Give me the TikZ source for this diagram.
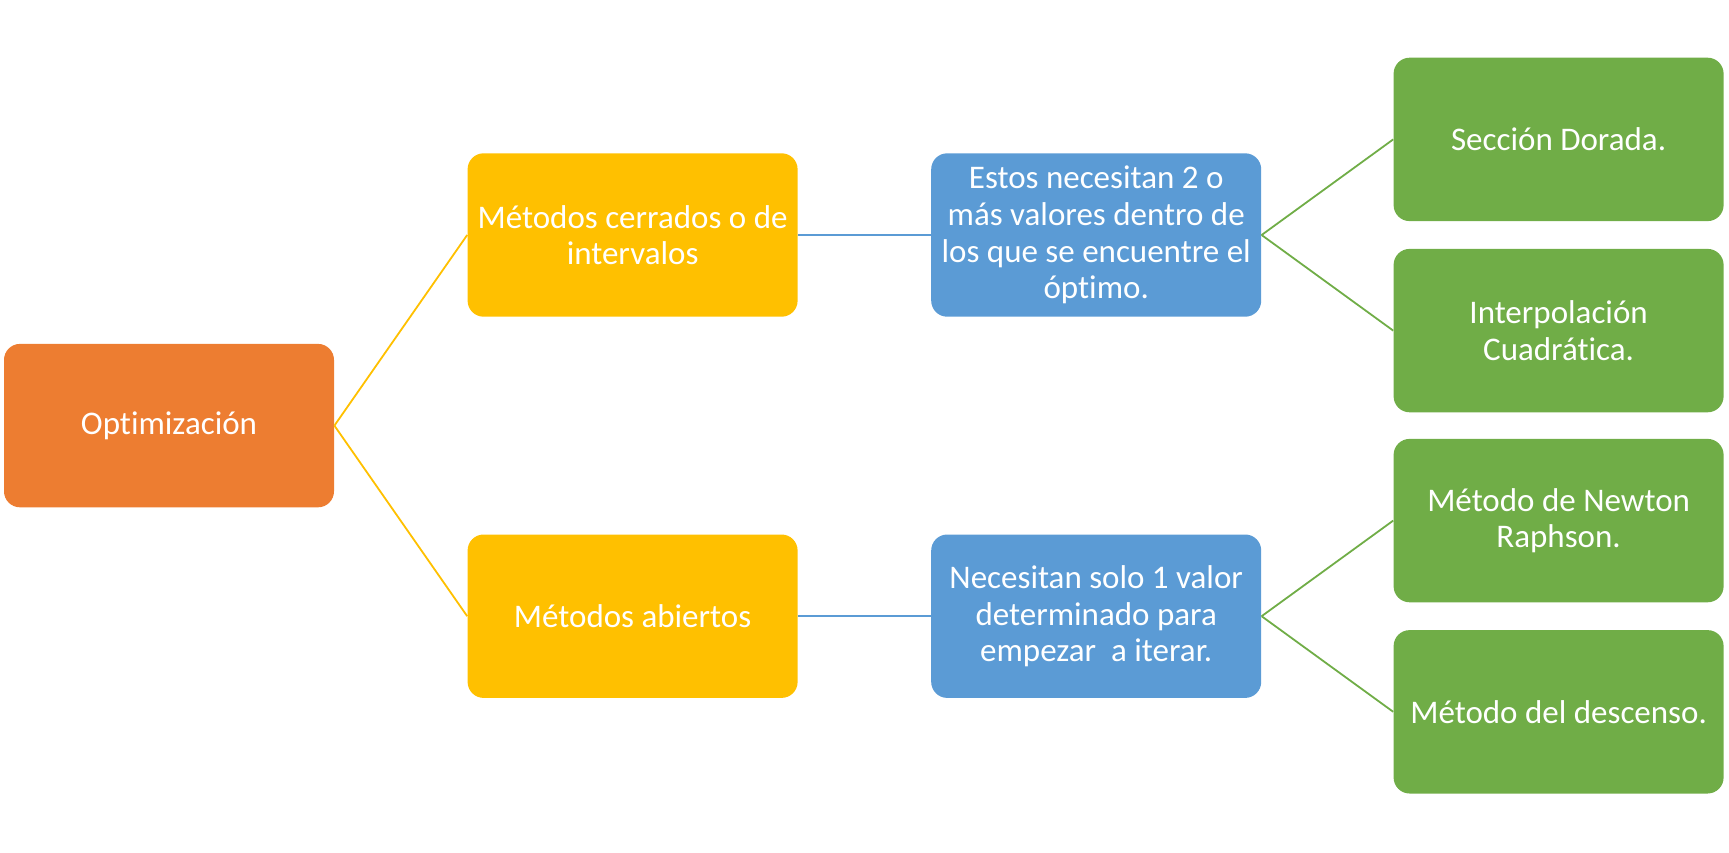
\documentclass[tikz,border=0pt]{standalone}
\usepackage{fontspec}
\setmainfont[Ligatures=NoCommon]{Carlito}
\definecolor{optorange}{HTML}{ED7D31}
\definecolor{optyellow}{HTML}{FFC000}
\definecolor{optblue}{HTML}{5B9BD5}
\definecolor{optgreen}{HTML}{70AD47}
\begin{document}
\begin{tikzpicture}[font=\fontsize{16.5}{18.3}\selectfont, grow'=right,
  edge from parent path={(\tikzparentnode.east) -- (\tikzchildnode.west)}] % mapa de métodos de optimización
\tikzstyle{mybox} = [rectangle, rounded corners=8pt, minimum width=165pt, minimum height=81.7pt, inner sep=2pt, text=white, align=center] % estilo de las cajas
\tikzstyle{level 1}=[level distance=231.8pt, sibling distance=190.6pt, edge from parent/.style={draw=optyellow, line width=0.9pt}] % métodos
\tikzstyle{level 2}=[level distance=231.8pt, edge from parent/.style={draw=optblue, line width=0.9pt}] % descripción
\tikzstyle{level 3}=[level distance=231.2pt, sibling distance=95.6pt, edge from parent/.style={draw=optgreen, line width=0.9pt}] % métodos concretos
\useasboundingbox (0,0) rectangle (864.5pt,-426pt);
\node[mybox, fill=optorange] (opt) at (84.5pt,-212.8pt) {Optimización} % raíz
    child { node[mybox, fill=optyellow] (cerr) {Métodos cerrados o de\\intervalos}
        child { node[mybox, fill=optblue] (dosval) {Estos necesitan 2 o\\más valores dentro de\\los que se encuentre el\\óptimo.}
            child { node[mybox, fill=optgreen] (dorada) {Sección Dorada.} }
            child { node[mybox, fill=optgreen] (interp) {Interpolación\\Cuadrática.} }
        }
    }
    child { node[mybox, fill=optyellow] (abier) {Métodos abiertos}
        child { node[mybox, fill=optblue] (unval) {Necesitan solo 1 valor\\determinado para\\empezar\ \ a iterar.}
            child { node[mybox, fill=optgreen] (newton) {Método de Newton\\Raphson.} }
            child { node[mybox, fill=optgreen] (desc) {Método del descenso.} }
        }
    };
\end{tikzpicture}
\end{document}
